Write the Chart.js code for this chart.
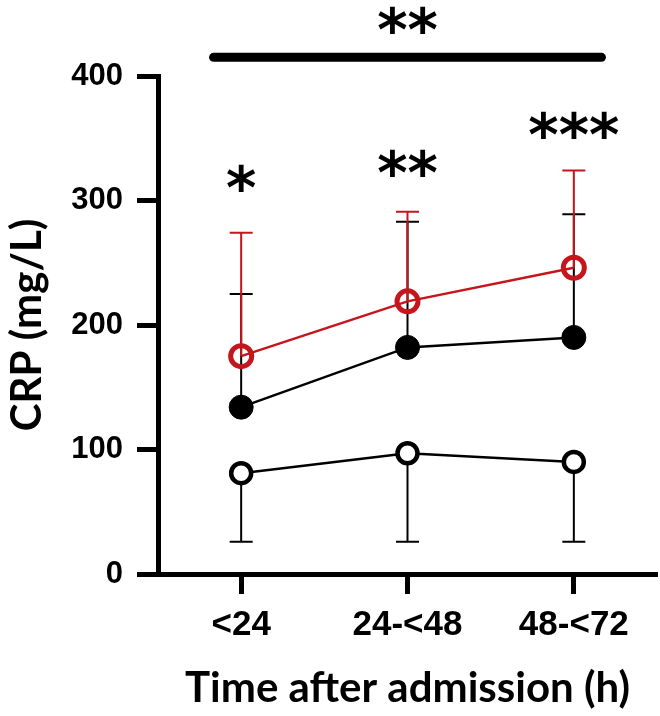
<!DOCTYPE html>
<html>
<head>
<meta charset="utf-8">
<script src="https://cdn.jsdelivr.net/npm/chart.js@4.4.1/dist/chart.umd.min.js"></script>
<style>
  html, body { margin: 0; padding: 0; background: #fff; }
  #wrap { width: 660px; height: 716px; position: relative; }
</style>
</head>
<body>
<div id="wrap"><canvas id="c" width="660" height="716"></canvas></div>
<script>
// ---- data ----
const categories = ['<24', '24-<48', '48-<72'];
const yTicks = [0, 100, 200, 300, 400];

const redMean = [175, 219, 246];
const redUpper = [274, 291, 324];

const filledMean = [134, 182, 190];
const filledUpper = [225, 283, 289];

const openMean = [81, 97, 90];
const openLower = [26, 26, 26];

const sigLabels = ['*', '**', '***'];
const sigY = [318, 330, 361];

const overallLabel = '**';
const overallBarY = 415;
const overallBarFrom = -0.19;
const overallBarTo = 2.19;
const overallLabelY = 445;

const RED = '#c4161c';
const BLACK = '#000000';

const errorBarPlugin = {
  id: 'errorBars',
  beforeDatasetsDraw(chart) {
    const ctx = chart.ctx;
    const xs = chart.scales.x, ys = chart.scales.y;
    const groups = [
      { mean: openMean, end: openLower, color: BLACK },
      { mean: filledMean, end: filledUpper, color: BLACK },
      { mean: redMean, end: redUpper, color: RED }
    ];
    ctx.save();
    ctx.lineWidth = 2;
    groups.forEach(g => {
      ctx.strokeStyle = g.color;
      g.mean.forEach((m, i) => {
        const x = xs.getPixelForValue(i);
        const y0 = ys.getPixelForValue(m);
        const y1 = ys.getPixelForValue(g.end[i]);
        ctx.beginPath();
        ctx.moveTo(x, y0);
        ctx.lineTo(x, y1);
        ctx.moveTo(x - 11.5, y1);
        ctx.lineTo(x + 11.5, y1);
        ctx.stroke();
      });
    });
    ctx.restore();
  }
};

function drawCenteredText(ctx, text, x, y) {
  const m = ctx.measureText(text);
  const asc = m.actualBoundingBoxAscent, desc = m.actualBoundingBoxDescent;
  ctx.textAlign = 'center';
  ctx.textBaseline = 'alphabetic';
  ctx.fillText(text, x, y - (desc - asc) / 2);
}

const annotationPlugin = {
  id: 'sigAnnotations',
  afterDraw(chart) {
    const ctx = chart.ctx;
    const xs = chart.scales.x, ys = chart.scales.y;
    ctx.save();
    ctx.fillStyle = BLACK;
    ctx.font = 'bold 58px "DejaVu Sans"';
    sigLabels.forEach((t, i) => {
      drawCenteredText(ctx, t, xs.getPixelForValue(i), ys.getPixelForValue(sigY[i]));
    });
    // overall bar
    ctx.strokeStyle = BLACK;
    ctx.lineWidth = 9;
    ctx.lineCap = 'round';
    const by = ys.getPixelForValue(overallBarY);
    const x0 = xs.getPixelForValue(0), x1 = xs.getPixelForValue(1);
    const step = x1 - x0;
    ctx.beginPath();
    ctx.moveTo(x0 + overallBarFrom * step + 4, by);
    ctx.lineTo(x0 + overallBarTo * step - 4, by);
    ctx.stroke();
    drawCenteredText(ctx, overallLabel, x1, ys.getPixelForValue(overallLabelY));
    ctx.restore();
  }
};

const yTickFont = { family: '"Liberation Sans", Arial, sans-serif', weight: 'bold', size: 31 };
const xTickFont = { family: '"Liberation Sans", Arial, sans-serif', weight: 'bold', size: 35 };
const titleFont = { family: 'Lato, "Noto Sans", sans-serif', weight: 'bold', size: 42 };

new Chart(document.getElementById('c'), {
  type: 'line',
  data: {
    labels: categories,
    datasets: [
      {
        label: 'open',
        data: openMean,
        borderColor: BLACK,
        borderWidth: 2.5,
        pointRadius: 10,
        pointBorderWidth: 4.5,
        pointBackgroundColor: '#fff',
        pointBorderColor: BLACK,
        order: 3
      },
      {
        label: 'filled',
        data: filledMean,
        borderColor: BLACK,
        borderWidth: 2.5,
        pointRadius: 12,
        pointBorderWidth: 1,
        pointBackgroundColor: BLACK,
        pointBorderColor: BLACK,
        order: 2
      },
      {
        label: 'red',
        data: redMean,
        borderColor: RED,
        borderWidth: 2.5,
        pointRadius: 10.5,
        pointBorderWidth: 5,
        pointBackgroundColor: 'rgba(0,0,0,0)',
        pointBorderColor: RED,
        order: 1
      }
    ]
  },
  options: {
    responsive: false,
    animation: false,
    devicePixelRatio: 1,
    layout: { autoPadding: false, padding: { top: 76, right: 3, left: 0, bottom: 0 } },
    plugins: { legend: { display: false }, tooltip: { enabled: false } },
    scales: {
      x: {
        type: 'category',
        offset: true,
        afterFit(scale) { scale.height = 142; scale.paddingLeft = 0; scale.paddingRight = 0; },
        grid: { display: true, drawOnChartArea: false, drawTicks: true, tickLength: 20, tickWidth: 5, tickColor: BLACK, offset: false },
        border: { display: true, width: 5, color: BLACK },
        ticks: { color: BLACK, font: xTickFont, padding: 10, maxRotation: 0, autoSkip: false },
        title: { display: true, text: 'Time after admission (h)', color: BLACK, font: titleFont, padding: { top: 0, bottom: 2 } }
      },
      y: {
        min: 0,
        max: 400,
        afterFit(scale) { scale.width = 158; scale.paddingTop = 0; scale.paddingBottom = 0; },
        afterBuildTicks(scale) { scale.ticks = yTicks.map(v => ({ value: v })); },
        grid: { display: true, drawOnChartArea: false, drawTicks: true, tickLength: 21, tickWidth: 5, tickColor: BLACK },
        border: { display: true, width: 5, color: BLACK },
        ticks: { color: BLACK, font: yTickFont, padding: 14 },
        title: { display: true, text: 'CRP (mg/L)', color: BLACK, font: titleFont, padding: { top: 2, bottom: 0 } }
      }
    }
  },
  plugins: [errorBarPlugin, annotationPlugin]
});
</script>
</body>
</html>
